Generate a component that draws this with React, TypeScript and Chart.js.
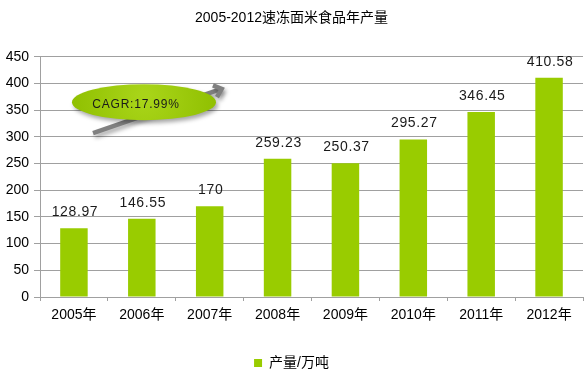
import { useEffect, useRef } from "react";
import { Chart, registerables } from "chart.js";

Chart.register(...registerables);

const titleText = "2005-2012速冻面米食品年产量";
const categories = ["2005年", "2006年", "2007年", "2008年", "2009年", "2010年", "2011年", "2012年"];
const production = [128.97, 146.55, 170, 259.23, 250.37, 295.27, 346.45, 410.58];
const seriesName = "产量/万吨";
const yMin = 0;
const yMax = 450;
const yStep = 50;
const cagrText = "CAGR:17.99%";

const BAR = "#99cc00";
const GRID = "#a0a0a0";
const FONT = "'Liberation Sans', 'Noto Sans CJK SC', sans-serif";

const labelPlugin = {
  id: "valueLabels",
  afterDatasetsDraw(chart: any) {
    const ctx = chart.ctx;
    const meta = chart.getDatasetMeta(0);
    ctx.save();
    ctx.font = `14px ${FONT}`;
    (ctx as any).letterSpacing = "0.6px";
    ctx.fillStyle = "#1a1a1a";
    ctx.textAlign = "center";
    ctx.textBaseline = "alphabetic";
    meta.data.forEach((el: any, i: number) => {
      ctx.fillText(String(production[i]), el.x + 1, el.y - 12);
    });
    ctx.restore();
  },
};

const cagrPlugin = {
  id: "cagr",
  afterDraw(chart: any) {
    const { ctx, chartArea: a } = chart;
    const w = a.right - a.left;
    const h = a.bottom - a.top;
    const px = (f: number) => a.left + f * w;
    const py = (f: number) => a.top + f * h;
    const x0 = px(0.0976), y0 = py(0.318);
    const x1 = px(0.338), y1 = py(0.131);
    ctx.save();
    // arrow
    ctx.shadowColor = "rgba(0,0,0,0.35)";
    ctx.shadowBlur = 4;
    ctx.shadowOffsetX = 2;
    ctx.shadowOffsetY = 3;
    const ang = Math.atan2(y1 - y0, x1 - x0);
    ctx.strokeStyle = "#808080";
    ctx.lineWidth = 4.5;
    ctx.lineCap = "butt";
    ctx.lineJoin = "miter";
    ctx.beginPath();
    ctx.moveTo(x0, y0);
    ctx.lineTo(x1 - 3 * Math.cos(ang), y1 - 3 * Math.sin(ang));
    ctx.stroke();
    const hl = 11;
    const spread = 0.6;
    ctx.beginPath();
    ctx.moveTo(x1 - hl * Math.cos(ang + spread), y1 - hl * Math.sin(ang + spread));
    ctx.lineTo(x1 - 2 * Math.cos(ang), y1 - 2 * Math.sin(ang));
    ctx.lineTo(x1 - hl * Math.cos(ang - spread), y1 - hl * Math.sin(ang - spread));
    ctx.stroke();
    // ellipse
    const cx = px(0.1915), cy = py(0.189);
    const g = ctx.createRadialGradient(cx, cy - 6, 5, cx, cy, 75);
    g.addColorStop(0, "#a8d418");
    g.addColorStop(1, "#8fbf00");
    ctx.fillStyle = g;
    ctx.beginPath();
    ctx.ellipse(cx, cy, 72, 18, 0, 0, Math.PI * 2);
    ctx.fill();
    ctx.shadowColor = "transparent";
    ctx.font = `12px ${FONT}`;
    (ctx as any).letterSpacing = "0.8px";
    ctx.fillStyle = "#1a1a1a";
    ctx.textAlign = "center";
    ctx.textBaseline = "middle";
    ctx.fillText(cagrText, cx - 8, cy + 2.5);
    ctx.restore();
  },
};

export default function App() {
  const ref = useRef<HTMLCanvasElement>(null);
  useEffect(() => {
    if (!ref.current) return;
    const chart = new Chart(ref.current, {
      type: "bar",
      data: {
        labels: categories,
        datasets: [
          {
            label: seriesName,
            data: production,
            backgroundColor: BAR,
            borderWidth: 0,
            categoryPercentage: 0.9,
            barPercentage: 0.45,
          },
        ],
      },
      options: {
        responsive: false,
        animation: false,
        events: [],
        layout: { padding: { left: 0, right: 2, top: 0, bottom: -7 } },
        plugins: {
          title: {
            display: true,
            text: titleText,
            color: "#000",
            font: { family: FONT, size: 14, weight: "normal" },
            padding: { top: 10, bottom: 30 },
          },
          legend: {
            position: "bottom",
            labels: {
              color: "#000",
              font: { family: FONT, size: 14 },
              boxWidth: 8,
              boxHeight: 8,
              padding: 2,
            },
          },
          tooltip: { enabled: false },
        },
        scales: {
          x: {
            grid: {
              offset: true,
              drawOnChartArea: false,
              drawTicks: true,
              tickLength: 4,
              color: GRID,
            },
            border: { color: GRID },
            ticks: { color: "#000", font: { family: FONT, size: 14 }, padding: 6, maxRotation: 0 },
            afterFit: (s: any) => {
              s.height = 57;
            },
          },
          y: {
            min: yMin,
            max: yMax,
            grid: { color: GRID, tickLength: 6 },
            border: { color: GRID },
            ticks: {
              stepSize: yStep,
              color: "#000",
              font: { family: FONT, size: 14 },
              padding: 5,
            },
            afterFit: (s: any) => {
              s.width = 40;
            },
          },
        },
      },
      plugins: [labelPlugin, cagrPlugin],
    });
    return () => chart.destroy();
  }, []);
  return (
    <div style={{ position: "fixed", left: 0, top: 0, width: 585, height: 373, background: "#fff" }}>
      <canvas ref={ref} width={585} height={373} style={{ width: 585, height: 373 }} />
    </div>
  );
}
